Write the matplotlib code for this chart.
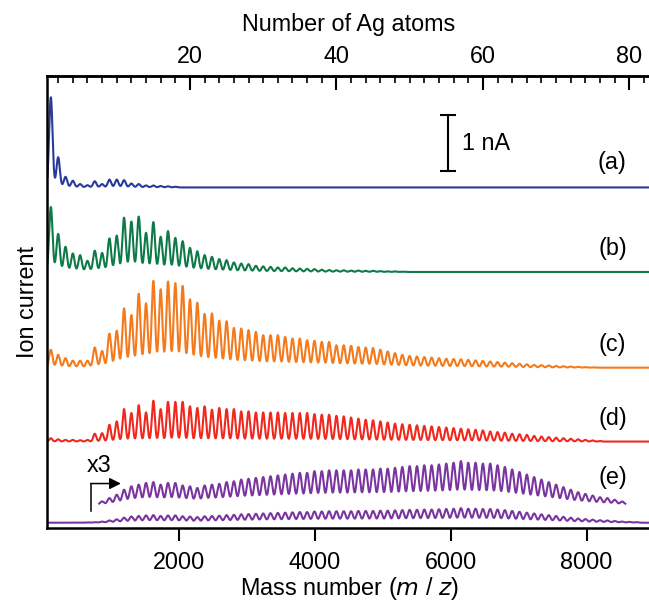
import numpy as np
import matplotlib.pyplot as plt
from matplotlib.ticker import MultipleLocator

plt.rcParams['font.family'] = ['Liberation Sans', 'DejaVu Sans']
plt.rcParams['font.size'] = 16.8

AG_MASS = 107.87  # m/z of one Ag atom

# peak heights (nA) for Ag_n, n = 1, 2, 3, ...
heights_a = [1.61, 0.54, 0.19, 0.12, 0.06, 0.04, 0.11, 0.06, 0.14, 0.14,
             0.13, 0.07, 0.06, 0.035, 0.035, 0.025, 0.02, 0.012]
heights_b = [1.16, 0.68, 0.45, 0.33, 0.30, 0.20, 0.38, 0.34, 0.60, 0.65,
             0.97, 0.90, 0.99, 0.70, 0.89, 0.63, 0.73, 0.61, 0.55, 0.43,
             0.37, 0.30, 0.27, 0.23, 0.21, 0.17, 0.15, 0.14, 0.11, 0.10,
             0.09, 0.08, 0.08, 0.065, 0.06, 0.055, 0.05, 0.04, 0.035, 0.03,
             0.03, 0.025, 0.025, 0.02, 0.02, 0.015, 0.01, 0.01, 0.005]
heights_c = [0.32, 0.23, 0.17, 0.125, 0.125, 0.125, 0.36, 0.30, 0.61, 0.66,
             1.06, 0.94, 1.32, 1.15, 1.55, 1.40, 1.54, 1.51, 1.46, 1.22,
             1.16, 0.96, 0.97, 0.84, 0.83, 0.71, 0.70, 0.67, 0.64, 0.58,
             0.58, 0.58, 0.55, 0.52, 0.52, 0.49, 0.48, 0.46, 0.46, 0.40,
             0.40, 0.39, 0.37, 0.36, 0.35, 0.32, 0.29, 0.26, 0.23, 0.21,
             0.20, 0.19, 0.18, 0.17, 0.16, 0.155, 0.15, 0.14, 0.13, 0.12,
             0.11, 0.10, 0.09, 0.08, 0.07, 0.06, 0.05, 0.045, 0.04, 0.03,
             0.025, 0.02, 0.015, 0.01, 0.005]
heights_d = [0.06, 0.04, 0.03, 0.03, 0.025, 0.03, 0.14, 0.15, 0.30, 0.36,
             0.58, 0.51, 0.65, 0.52, 0.73, 0.58, 0.71, 0.71, 0.71, 0.63,
             0.60, 0.63, 0.57, 0.60, 0.58, 0.58, 0.54, 0.54, 0.52, 0.52,
             0.52, 0.52, 0.51, 0.51, 0.51, 0.51, 0.49, 0.48, 0.48, 0.46,
             0.45, 0.43, 0.41, 0.39, 0.38, 0.36, 0.34, 0.32, 0.31, 0.30,
             0.29, 0.28, 0.27, 0.26, 0.25, 0.24, 0.23, 0.22, 0.21, 0.20,
             0.18, 0.17, 0.16, 0.14, 0.13, 0.12, 0.10, 0.09, 0.08, 0.07,
             0.06, 0.05, 0.04, 0.03, 0.02, 0.01]
heights_e = [0.0, 0.0, 0.0, 0.0, 0.0, 0.005, 0.01, 0.02, 0.04, 0.06,
             0.09, 0.11, 0.12, 0.13, 0.135, 0.12, 0.13, 0.13, 0.115, 0.11,
             0.10, 0.115, 0.12, 0.125, 0.135, 0.14, 0.15, 0.155, 0.16, 0.165,
             0.17, 0.175, 0.18, 0.185, 0.19, 0.19, 0.20, 0.20, 0.205, 0.205,
             0.205, 0.205, 0.21, 0.21, 0.21, 0.215, 0.215, 0.22, 0.225, 0.23,
             0.23, 0.235, 0.235, 0.24, 0.245, 0.25, 0.26, 0.25, 0.25, 0.245,
             0.245, 0.235, 0.225, 0.21, 0.195, 0.18, 0.165, 0.15, 0.135, 0.12,
             0.105, 0.09, 0.075, 0.065, 0.055, 0.045, 0.04, 0.03, 0.02, 0.015,
             0.01]

labels = ['(a)', '(b)', '(c)', '(d)', '(e)']
colors = ['#2a3a9c', '#0e7a48', '#f47a1c', '#f0281e', '#7a35a0']
offsets = [6.09, 4.58, 2.87, 1.55, 0.10]
label_y = [6.54, 5.00, 3.28, 1.97, 0.90]
widths = [25, 25, 25, 22, 29]

e_zoom_factor = 3
e_zoom_offset = 0.42
e_zoom_range = (820, 8570)

mz = np.linspace(56, 8950, 30000)


def spectrum(heights, width):
    y = np.zeros_like(mz)
    for n, h in enumerate(heights, start=1):
        y += h * np.exp(-(mz - n * AG_MASS) ** 2 / (2 * width ** 2))
    return y


fig = plt.figure(figsize=(6.49, 6.04), dpi=100)
ax = fig.add_axes([0.0729, 0.1253, 0.930, 0.7488])

all_heights = [heights_a, heights_b, heights_c, heights_d, heights_e]
for h, c, off, lab, ly, w in zip(all_heights, colors, offsets, labels, label_y, widths):
    y = spectrum(h, w)
    ax.plot(mz, y + off, color=c, lw=1.5)
    ax.text(8380, ly, lab, ha='center', va='center')

# (e) magnified x3
y_e = spectrum(heights_e, widths[4])
sel = (mz >= e_zoom_range[0]) & (mz <= e_zoom_range[1])
ax.plot(mz[sel], e_zoom_factor * y_e[sel] + e_zoom_offset, color=colors[4], lw=1.5)
ax.annotate('', xy=(1140, 0.80), xytext=(695, 0.80),
            arrowprops=dict(arrowstyle='-|>', color='black', lw=1.1,
                            mutation_scale=17, shrinkA=0, shrinkB=0))
ax.plot([695, 695], [0.31, 0.80], color='black', lw=1.1)
ax.text(825, 1.12, 'x3', ha='center', va='center')

# scale bar
ax.errorbar([5957], [6.88], yerr=[[0.5], [0.5]], color='black', lw=1.5,
            capsize=6, capthick=1.5)
ax.text(6163, 6.88, '1 nA', ha='left', va='center')

ax.set_xlim(56, 8947)
ax.set_ylim(0, 8.08)
ax.set_yticks([])
ax.set_xticks([2000, 4000, 6000, 8000])
ax.tick_params(axis='x', direction='out', length=9, width=1.5, pad=7)
ax.set_xlabel('Mass number ($\\mathit{m}$ / $\\mathit{z}$)', labelpad=1)
ax.set_ylabel('Ion current', labelpad=6)
for side in ['left', 'bottom', 'top']:
    ax.spines[side].set_linewidth(1.8)
ax.spines['right'].set_visible(False)

secax = ax.secondary_xaxis('top', functions=(lambda x: x / AG_MASS, lambda n: n * AG_MASS))
secax.set_xticks([20, 40, 60, 80])
secax.xaxis.set_minor_locator(MultipleLocator(2))
secax.tick_params(which='major', direction='in', length=10, width=1.5, pad=6)
secax.tick_params(which='minor', direction='in', length=5, width=1.2)
secax.spines['top'].set_linewidth(1.8)
secax.set_xlabel('Number of Ag atoms', labelpad=10)

fig.savefig('out.png', dpi=100)
